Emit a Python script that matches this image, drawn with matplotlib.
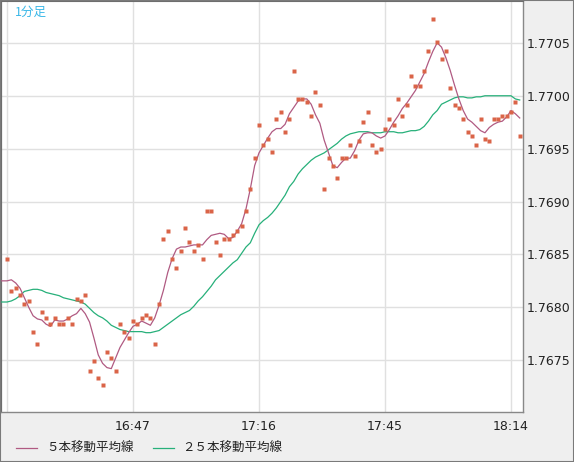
import numpy as np
import pandas as pd
import matplotlib
matplotlib.use("Agg")
import matplotlib.pyplot as plt
from matplotlib.lines import Line2D
from matplotlib.patches import Rectangle

# 1-minute closes, 16:18 .. 18:16
close = [
    1.76846, 1.76815, 1.76818, 1.76812, 1.76803, 1.76806, 1.76777, 1.76765, 1.76796, 1.76790,
    1.76784, 1.76790, 1.76784, 1.76784, 1.76790, 1.76784, 1.76808, 1.76806, 1.76812, 1.76740,
    1.76749, 1.76733, 1.76727, 1.76758, 1.76752, 1.76740, 1.76784, 1.76777, 1.76771, 1.76787,
    1.76784, 1.76790, 1.76793, 1.76790, 1.76765, 1.76803, 1.76865, 1.76872, 1.76846, 1.76837,
    1.76853, 1.76875, 1.76862, 1.76853, 1.76859, 1.76846, 1.76891, 1.76891, 1.76862, 1.76849,
    1.76865, 1.76865, 1.76868, 1.76872, 1.76877, 1.76891, 1.76912, 1.76941, 1.76972, 1.76953,
    1.76959, 1.76947, 1.76978, 1.76985, 1.76966, 1.76978, 1.77023, 1.76997, 1.76997, 1.76994,
    1.76981, 1.77004, 1.76991, 1.76912, 1.76941, 1.76934, 1.76922, 1.76941, 1.76941, 1.76953,
    1.76943, 1.76957, 1.76975, 1.76985, 1.76953, 1.76947, 1.76950, 1.76969, 1.76978, 1.76972,
    1.76997, 1.76981, 1.76991, 1.77019, 1.77009, 1.77009, 1.77023, 1.77042, 1.77073, 1.77051,
    1.77035, 1.77042, 1.77007, 1.76991, 1.76988, 1.76978, 1.76966, 1.76962, 1.76953, 1.76978,
    1.76959, 1.76957, 1.76978, 1.76978, 1.76981, 1.76981, 1.76985, 1.76994, 1.76962,
]

# moving averages, 16:16 .. 18:16 (two extra minutes at the left edge)
ma5 = [
    1.76825, 1.76825,
    1.76825, 1.76826, 1.76823, 1.76818, 1.76809, 1.76800, 1.76792, 1.76789, 1.76788, 1.76784,
    1.76782, 1.76788, 1.76787, 1.76787, 1.76789, 1.76792, 1.76794, 1.76799, 1.76794, 1.76786,
    1.76771, 1.76755, 1.76747, 1.76743, 1.76742, 1.76752, 1.76762, 1.76769, 1.76776, 1.76782,
    1.76784, 1.76787, 1.76785, 1.76783, 1.76790, 1.76802, 1.76816, 1.76833, 1.76846, 1.76855,
    1.76857, 1.76857, 1.76858, 1.76859, 1.76859, 1.76859, 1.76864, 1.76868, 1.76869, 1.76870,
    1.76869, 1.76865, 1.76866, 1.76872, 1.76879, 1.76893, 1.76912, 1.76934, 1.76946, 1.76953,
    1.76960, 1.76966, 1.76969, 1.76969, 1.76973, 1.76983, 1.76989, 1.76995, 1.76997, 1.76997,
    1.76992, 1.76982, 1.76974, 1.76958, 1.76946, 1.76934, 1.76932, 1.76937, 1.76941, 1.76941,
    1.76948, 1.76958, 1.76964, 1.76965, 1.76965, 1.76962, 1.76960, 1.76962, 1.76968, 1.76975,
    1.76981, 1.76988, 1.76993, 1.76999, 1.77005, 1.77013, 1.77021, 1.77032, 1.77042, 1.77050,
    1.77046, 1.77036, 1.77024, 1.77010, 1.76997, 1.76986, 1.76978, 1.76975, 1.76971, 1.76967,
    1.76965, 1.76970, 1.76973, 1.76975, 1.76976, 1.76980, 1.76986, 1.76983, 1.76979,
]
ma25 = [
    1.76805, 1.76805,
    1.76805, 1.76806, 1.76808, 1.76811, 1.76815, 1.76816, 1.76817, 1.76817, 1.76816, 1.76814,
    1.76813, 1.76812, 1.76811, 1.76809, 1.76808, 1.76807, 1.76806, 1.76805, 1.76803, 1.76799,
    1.76795, 1.76792, 1.76790, 1.76787, 1.76783, 1.76781, 1.76779, 1.76778, 1.76777, 1.76777,
    1.76777, 1.76777, 1.76776, 1.76776, 1.76777, 1.76778, 1.76781, 1.76784, 1.76787, 1.76790,
    1.76793, 1.76795, 1.76797, 1.76801, 1.76806, 1.76810, 1.76815, 1.76820, 1.76826, 1.76830,
    1.76834, 1.76838, 1.76842, 1.76845, 1.76851, 1.76857, 1.76861, 1.76870, 1.76878, 1.76882,
    1.76885, 1.76889, 1.76894, 1.76900, 1.76906, 1.76914, 1.76919, 1.76926, 1.76931, 1.76935,
    1.76939, 1.76942, 1.76944, 1.76946, 1.76949, 1.76952, 1.76955, 1.76959, 1.76962, 1.76964,
    1.76965, 1.76966, 1.76966, 1.76966, 1.76965, 1.76965, 1.76965, 1.76966, 1.76966, 1.76966,
    1.76965, 1.76965, 1.76966, 1.76967, 1.76967, 1.76968, 1.76971, 1.76976, 1.76982, 1.76986,
    1.76992, 1.76994, 1.76996, 1.76998, 1.76999, 1.76999, 1.76998, 1.76998, 1.76999, 1.76999,
    1.77000, 1.77000, 1.77000, 1.77000, 1.77000, 1.77000, 1.77000, 1.76997, 1.76996,
]

times = pd.date_range("16:16", periods=len(ma5), freq="1min").strftime("%H:%M").tolist()
label_times = ["16:18", "16:47", "17:16", "17:45", "18:14"]
yticks = [1.7675, 1.7680, 1.7685, 1.7690, 1.7695, 1.7700, 1.7705]
legend_labels = ["５本移動平均線", "２５本移動平均線"]

c_dot = "#da6448"
c_ma5 = "#b05a82"
c_ma25 = "#27b07a"
bg = "#efefef"

W, H = 574, 462
fig = plt.figure(figsize=(W / 100, H / 100), dpi=100, facecolor=bg)
ax = fig.add_axes([1 / W, (H - 412) / H, 522 / W, 411 / H], facecolor="white")

x_ma = np.arange(len(ma5))
x_close = np.arange(2, 2 + len(close))
ax.plot(x_ma, ma25, color=c_ma25, lw=0.9, zorder=3)
ax.plot(x_ma, ma5, color=c_ma5, lw=0.9, zorder=3)
ax.plot(x_close, close, ls="none", marker="s", ms=3, mec="none", mfc=c_dot, zorder=4)

pos = [times.index(t) for t in label_times]
ax.set_xticks(pos)
ax.set_xticklabels([t if k > 0 else "" for k, t in enumerate(label_times)])
ax.set_xlim(2 - 6 / 4.345, 2 + 516 / 4.345)
ax.set_yticks(yticks)
ax.set_yticklabels([f"{v:.4f}" for v in yticks])
ax.set_ylim(1.76701, 1.770896)

ax.grid(True, color="#e0e0e0", lw=1.0)
ax.set_axisbelow(True)
ax.yaxis.tick_right()
ax.tick_params(axis="both", length=0, labelsize=9, colors="#222222")
ax.tick_params(axis="y", pad=3)
ax.tick_params(axis="x", pad=6)

for side in ["left", "top"]:
    ax.spines[side].set_color("#6e6e6e")
ax.spines["left"].set_linewidth(1.6)
for side in ["right", "bottom"]:
    ax.spines[side].set_color("#888888")
    ax.spines[side].set_linewidth(1.0)

ax.text(14 / 522, 1 - 11 / 411, "1分足", transform=ax.transAxes, va="center", ha="left",
        fontsize=9, color="#3bb8e8", family=["Noto Sans CJK JP", "DejaVu Sans"])

# legend along the bottom
ly = 1 - 448 / H
for (x0, x1, tx), col, lab in zip([(16, 37, 46), (153, 174, 182)], [c_ma5, c_ma25], legend_labels):
    fig.add_artist(Line2D([x0 / W, x1 / W], [ly, ly], color=col, lw=0.9))
    fig.text(tx / W, ly, lab, va="center", ha="left", fontsize=9, color="#222222",
             family=["Noto Sans CJK JP", "DejaVu Sans"])

# outer frame
fig.add_artist(Rectangle((0, 0), 1, 1, transform=fig.transFigure, fill=False,
                         edgecolor="#7a7a7a", lw=1.5))

fig.savefig("out.png", dpi=100, facecolor=bg)
